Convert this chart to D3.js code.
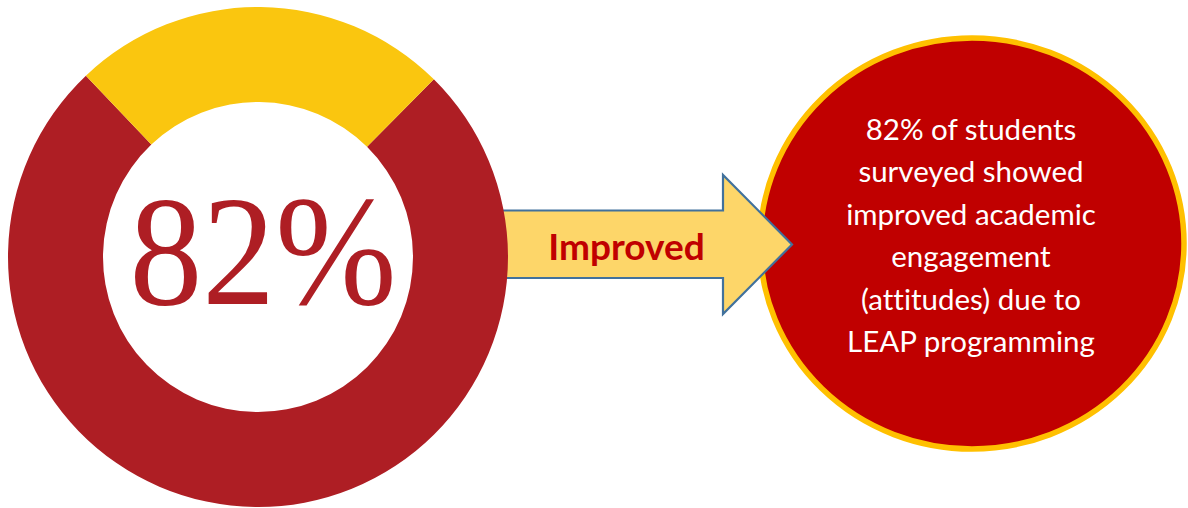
<!DOCTYPE html>
<html>
<head>
<meta charset="utf-8">
<script src="https://cdn.jsdelivr.net/npm/d3@7"></script>
<style>
  html, body { margin: 0; padding: 0; background: #ffffff; }
  svg { display: block; }
  text { font-variant-ligatures: none; }
</style>
</head>
<body>
<svg id="chart" width="1188" height="508"></svg>
<script>
// ---- data ----
const segmentLabels = ["Improved", "Not improved"];
const segmentShares = [75.5, 24.5];          // share of the ring as drawn
const segmentColors = ["#AE1E24", "#FAC60F"];
const headlineValue = 82;                      // printed percentage
const arrowLabel = "Improved";
const calloutLines = [
  "82% of students",
  "surveyed showed",
  "improved academic",
  "engagement",
  "(attitudes) due to",
  "LEAP programming"
];

// ---- layout ----
const svg = d3.select("#chart");

// right callout ellipse
const cx2 = 972, cy2 = 243.5, rx2 = 212, ry2 = 205.5;
svg.append("ellipse")
  .attr("cx", cx2).attr("cy", cy2)
  .attr("rx", rx2).attr("ry", ry2)
  .attr("fill", "#C00000")
  .attr("stroke", "#FFC000")
  .attr("stroke-width", 5.5);

const lineY = d3.scaleLinear().domain([0, calloutLines.length - 1]).range([140, 352]);
svg.append("g")
  .selectAll("text")
  .data(calloutLines)
  .join("text")
  .attr("x", 971)
  .attr("y", (d, i) => lineY(i))
  .attr("text-anchor", "middle")
  .attr("fill", "#ffffff")
  .attr("font-family", "Lato, 'Open Sans', sans-serif")
  .attr("font-size", 29.5)
  .text(d => d);

// arrow
const ax0 = 480, ax1 = 723, axTip = 792, ay = 244.5;
const bodyTop = 210.5, bodyBot = 278, headTop = 175, headBot = 314;
const p = d3.path();
p.moveTo(ax0, bodyTop);
p.lineTo(ax1, bodyTop);
p.lineTo(ax1, headTop);
p.lineTo(axTip, ay);
p.lineTo(ax1, headBot);
p.lineTo(ax1, bodyBot);
p.lineTo(ax0, bodyBot);
p.closePath();
svg.append("path")
  .attr("d", p.toString())
  .attr("fill", "#FDD669")
  .attr("stroke", "#41719C")
  .attr("stroke-width", 2.2)
  .attr("stroke-linejoin", "miter");

svg.append("text")
  .attr("x", 626.5)
  .attr("y", 260)
  .attr("text-anchor", "middle")
  .attr("fill", "#C00000")
  .attr("font-family", "Lato, 'Open Sans', sans-serif")
  .attr("font-weight", "bold")
  .attr("font-size", 37)
  .text(arrowLabel);

// donut
const dcx = 258, dcy = 257, rOuter = 250, rInner = 155;
const startDeg = 44.7;
const pie = d3.pie().sort(null)
  .startAngle(startDeg * Math.PI / 180)
  .endAngle((startDeg + 360) * Math.PI / 180);
const arc = d3.arc().innerRadius(rInner).outerRadius(rOuter);
const g = svg.append("g").attr("transform", `translate(${dcx},${dcy})`);
g.selectAll("path")
  .data(pie(segmentShares))
  .join("path")
  .attr("d", arc)
  .attr("fill", (d, i) => segmentColors[i]);

g.append("text")
  .attr("x", 5)
  .attr("y", 47)
  .attr("text-anchor", "middle")
  .attr("fill", "#AE1E24")
  .attr("font-family", "'Liberation Serif', 'DejaVu Serif', serif")
  .attr("font-size", 157)
  .attr("textLength", 267)
  .attr("lengthAdjust", "spacingAndGlyphs")
  .text(headlineValue + "%");
</script>
</body>
</html>
